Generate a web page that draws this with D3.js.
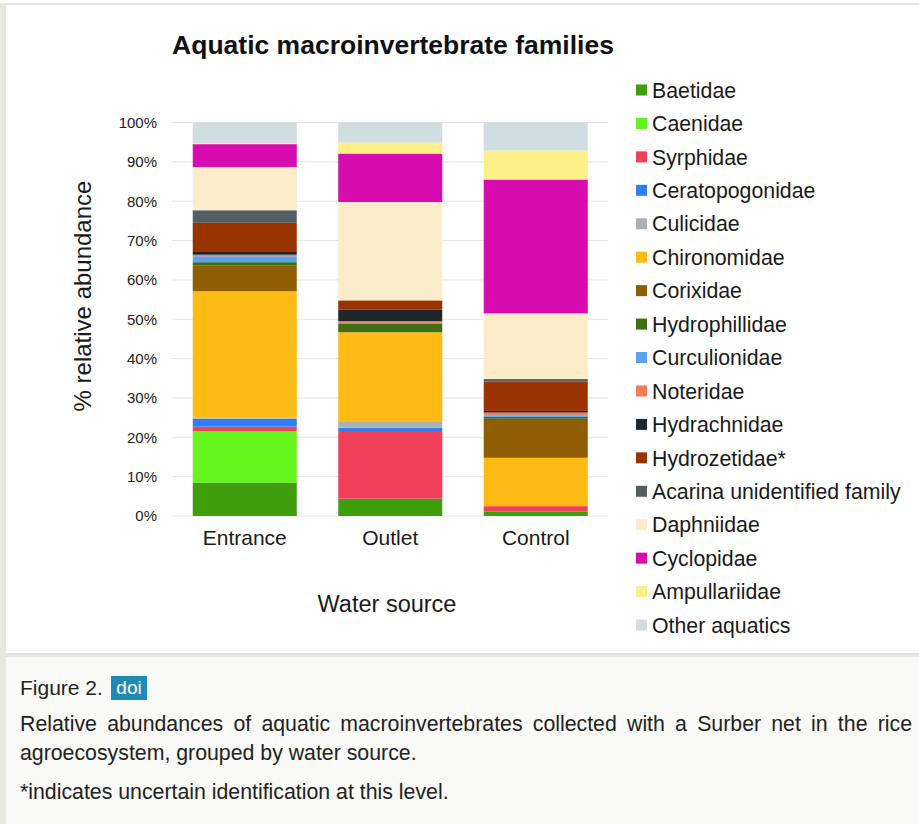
<!DOCTYPE html>
<html>
<head>
<meta charset="utf-8">
<script src="https://cdn.jsdelivr.net/npm/d3@7"></script>
<style>
  body { margin: 0; background: #fff; }
  svg { display: block; }
</style>
</head>
<body>
<svg id="chart" width="919" height="824"></svg>
<script>
// data (% relative abundance, bottom to top)
const sites = ['Entrance', 'Outlet', 'Control'];

const families = ['Baetidae', 'Caenidae', 'Syrphidae', 'Ceratopogonidae', 'Culicidae',
  'Chironomidae', 'Corixidae', 'Hydrophillidae', 'Curculionidae', 'Noteridae',
  'Hydrachnidae', 'Hydrozetidae*', 'Acarina unidentified family', 'Daphniidae',
  'Cyclopidae', 'Ampullariidae', 'Other aquatics'];

const colors = ['#3f9e0c', '#64f51c', '#f23f5b', '#2f7ff0', '#a9b2b4',
  '#fdbb14', '#8f5e02', '#3f6f14', '#5ba1f0', '#f57b56',
  '#1f272d', '#993300', '#525e61', '#fcecc9',
  '#d80bae', '#fdef87', '#d1dee1'];

const entrance = [8.5, 13.1, 1.1, 2.0, 0.3, 32.1, 6.5, 0.9, 1.5, 0.4, 0.9, 7.2, 3.2, 11.0, 5.8, 0.3, 5.2];
const outlet   = [4.4, 0, 17.2, 0.8, 1.5, 22.8, 0, 2.1, 0.3, 0.4, 3.0, 2.3, 0, 25.0, 12.3, 2.8, 5.1];
const control  = [1.1, 0, 1.4, 0, 0, 12.3, 9.9, 0.5, 0.4, 0.7, 0.4, 7.5, 0.6, 16.7, 34.0, 7.4, 7.1];

const yTicks = [0, 10, 20, 30, 40, 50, 60, 70, 80, 90, 100];

const captionTitle = 'Figure 2.';
const captionLines = [
  'Relative abundances of aquatic macroinvertebrates collected with a Surber net in the rice',
  'agroecosystem, grouped by water source.',
  '*indicates uncertain identification at this level.'
];

const svg = d3.select('#chart');
const font = 'Liberation Sans, Arial, sans-serif';

// page frame
svg.append('rect').attr('x', 0).attr('y', 0).attr('width', 919).attr('height', 824).attr('fill', '#fff');
svg.append('rect').attr('x', 0).attr('y', 3).attr('width', 919).attr('height', 2).attr('fill', '#e4e4de');
svg.append('rect').attr('x', 0).attr('y', 653).attr('width', 919).attr('height', 171).attr('fill', '#f9f9f7');
svg.append('rect').attr('x', 0).attr('y', 653).attr('width', 919).attr('height', 4).attr('fill', '#e6e6e0');
svg.append('rect').attr('x', 0).attr('y', 3).attr('width', 6).attr('height', 821).attr('fill', '#e8e8e2');

// stack
const table = sites.map((s, i) => {
  const row = { site: s };
  const vals = [entrance, outlet, control][i];
  families.forEach((f, j) => row[f] = vals[j]);
  return row;
});
const series = d3.stack().keys(families)(table);

const x = d3.scaleBand().domain(sites).range([172, 608.5]).paddingInner(0.285).paddingOuter(0.1425);
const y = d3.scaleLinear().domain([0, 100]).range([516, 122.5]);
const color = d3.scaleOrdinal().domain(families).range(colors);

// grid
svg.append('g')
  .selectAll('line')
  .data(yTicks)
  .enter().append('line')
  .attr('x1', 172).attr('x2', 608.5)
  .attr('y1', d => y(d)).attr('y2', d => y(d))
  .attr('stroke', '#e6e6e6')
  .attr('stroke-width', 1);

// bars
svg.append('g')
  .selectAll('g')
  .data(series)
  .enter().append('g')
  .attr('fill', d => color(d.key))
  .selectAll('rect')
  .data(d => d)
  .enter().append('rect')
  .attr('x', d => x(d.data.site))
  .attr('width', x.bandwidth())
  .attr('y', d => y(d[1]))
  .attr('height', d => y(d[0]) - y(d[1]));

// y axis labels
const yAxis = svg.append('g')
  .attr('transform', 'translate(157,0)')
  .call(d3.axisLeft(y).tickValues(yTicks).tickSize(0).tickPadding(0).tickFormat(d => d + '%'));
yAxis.select('.domain').remove();
yAxis.selectAll('text')
  .attr('font-family', font).attr('font-size', 15).attr('fill', '#222');

// x axis labels
const xAxis = svg.append('g')
  .attr('transform', 'translate(0,530)')
  .call(d3.axisBottom(x).tickSize(0).tickPadding(0));
xAxis.select('.domain').remove();
xAxis.selectAll('text')
  .attr('font-family', font).attr('font-size', 21).attr('fill', '#1a1a1a')
  .attr('dy', '0.7em');

// titles
svg.append('text')
  .attr('x', 393).attr('y', 54)
  .attr('text-anchor', 'middle')
  .attr('font-family', font).attr('font-size', 26.5).attr('font-weight', 'bold')
  .attr('fill', '#111')
  .text('Aquatic macroinvertebrate families');

svg.append('text')
  .attr('transform', 'translate(91,296) rotate(-90)')
  .attr('text-anchor', 'middle')
  .attr('font-family', font).attr('font-size', 24)
  .attr('fill', '#1a1a1a')
  .text('% relative abundance');

svg.append('text')
  .attr('x', 387).attr('y', 612)
  .attr('text-anchor', 'middle')
  .attr('font-family', font).attr('font-size', 23.5)
  .attr('fill', '#1a1a1a')
  .text('Water source');

// legend
const legend = svg.append('g')
  .selectAll('g')
  .data(families)
  .enter().append('g')
  .attr('transform', (d, i) => `translate(636,${90 + i * 33.44})`);
legend.append('rect')
  .attr('x', 0).attr('y', -5.5).attr('width', 11).attr('height', 11)
  .attr('fill', d => color(d));
legend.append('text')
  .attr('x', 16).attr('dy', '0.36em')
  .attr('font-family', font).attr('font-size', 21.3).attr('fill', '#1a1a1a')
  .text(d => d);

// caption
const capFont = 'Liberation Sans, Arial, sans-serif';
svg.append('text')
  .attr('x', 20).attr('y', 695)
  .attr('font-family', capFont).attr('font-size', 21).attr('fill', '#222')
  .text(captionTitle);
svg.append('rect')
  .attr('x', 111).attr('y', 676).attr('width', 36).attr('height', 24)
  .attr('fill', '#1e8bb4');
svg.append('text')
  .attr('x', 129).attr('y', 694)
  .attr('text-anchor', 'middle')
  .attr('font-family', capFont).attr('font-size', 19).attr('fill', '#fff')
  .text('doi');

const capY = [731, 760, 799];
const capLines = svg.append('g')
  .selectAll('text')
  .data(captionLines)
  .enter().append('text')
  .attr('x', 20).attr('y', (d, i) => capY[i])
  .attr('font-family', capFont).attr('font-size', 21.3).attr('fill', '#222')
  .text(d => d);

// first line is justified: spread the gap between words
capLines.filter((d, i) => i === 0).each(function(d) {
  const len = this.getComputedTextLength();
  const gaps = d.split(' ').length - 1;
  d3.select(this).attr('word-spacing', (892 - len) / gaps);
});
</script>
</body>
</html>
